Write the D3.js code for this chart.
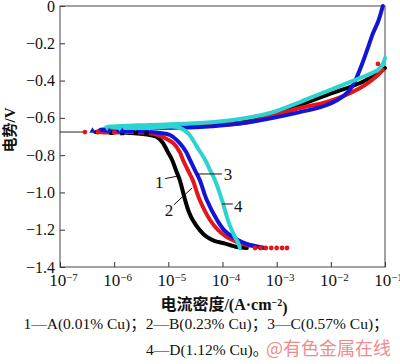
<!DOCTYPE html>
<html>
<head>
<meta charset="utf-8">
<script src="https://cdnjs.cloudflare.com/ajax/libs/d3/7.8.5/d3.min.js"></script>
<style>
body { margin: 0; background: #fff; }
svg { display: block; }
</style>
</head>
<body>
<svg id="chart" width="400" height="364"></svg>
<script>

// Polarization curves, points are [log10 current density (A/cm2), potential (V)]
var curveA = [[-3.55,-1.298],[-3.73,-1.293],[-3.99,-1.271],[-4.14,-1.261],[-4.29,-1.239],[-4.42,-1.202],[-4.55,-1.148],[-4.62,-1.105],[-4.69,-1.041],[-4.79,-0.933],[-4.86,-0.880],[-4.93,-0.826],[-5.01,-0.783],[-5.10,-0.735],[-5.21,-0.703],[-5.34,-0.692],[-5.71,-0.681],[-6.08,-0.676],[-6.35,-0.676],[-6.08,-0.665],[-5.71,-0.654],[-5.15,-0.649],[-4.42,-0.638],[-3.49,-0.617],[-2.57,-0.531],[-2.02,-0.472],[-1.46,-0.413],[-1.19,-0.370],[-1.09,-0.354],[-1.00,-0.333]];
var curveB = [[-3.40,-1.287],[-3.55,-1.282],[-3.73,-1.266],[-3.92,-1.239],[-4.08,-1.202],[-4.23,-1.148],[-4.42,-1.041],[-4.55,-0.933],[-4.64,-0.880],[-4.73,-0.826],[-4.79,-0.783],[-4.91,-0.735],[-5.10,-0.703],[-5.25,-0.687],[-5.71,-0.676],[-6.26,-0.676],[-6.26,-0.670],[-5.71,-0.660],[-4.42,-0.644],[-3.49,-0.622],[-2.57,-0.547],[-2.07,-0.515],[-1.46,-0.440],[-1.15,-0.375],[-1.04,-0.343]];
var curveC = [[-3.22,-1.298],[-3.49,-1.282],[-3.64,-1.266],[-3.81,-1.239],[-3.97,-1.202],[-4.10,-1.148],[-4.29,-1.041],[-4.42,-0.933],[-4.51,-0.880],[-4.60,-0.826],[-4.67,-0.783],[-4.79,-0.735],[-4.97,-0.692],[-5.15,-0.681],[-5.71,-0.670],[-6.26,-0.665],[-6.08,-0.660],[-5.71,-0.654],[-4.42,-0.649],[-3.49,-0.622],[-2.57,-0.569],[-2.07,-0.531],[-1.74,-0.477],[-1.61,-0.434],[-1.52,-0.381],[-1.43,-0.316],[-1.33,-0.236],[-1.22,-0.145],[-1.13,-0.086],[-1.04,0]];
var curveD = [[-3.68,-1.298],[-3.71,-1.271],[-3.77,-1.239],[-3.83,-1.202],[-3.90,-1.148],[-4.01,-1.041],[-4.14,-0.933],[-4.23,-0.880],[-4.32,-0.826],[-4.47,-0.756],[-4.64,-0.681],[-4.84,-0.649],[-5.34,-0.654],[-5.89,-0.654],[-6.13,-0.649],[-5.89,-0.644],[-5.34,-0.638],[-4.42,-0.628],[-3.68,-0.606],[-3.12,-0.574],[-2.57,-0.515],[-2.02,-0.451],[-1.46,-0.386],[-1.13,-0.343],[-1.04,-0.311],[-1.00,-0.279]];

// thin lead-in line at the corrosion potential
var ecorrLine = [[-7.0,-0.676],[-6.5,-0.676]];

// scattered markers
var markersA = [[-6.05,-0.680],[-5.85,-0.682],[-5.60,-0.680],[-5.40,-0.684]];
var markersB = [[-6.54,-0.676],[-6.30,-0.676],[-6.00,-0.678],[-3.40,-1.298],[-3.30,-1.298],[-3.20,-1.298],[-3.10,-1.298],[-3.00,-1.298],[-2.90,-1.298],[-2.81,-1.298],[-1.13,-0.311]];
var markersC = [[-6.40,-0.670],[-6.10,-0.668],[-5.85,-0.672]];
var markersD = [[-6.13,-0.652],[-5.90,-0.654],[-5.60,-0.652],[-5.35,-0.650]];

var xTickExps = [-7, -6, -5, -4, -3, -2, -1];
var yTicks = [0, -0.2, -0.4, -0.6, -0.8, -1.0, -1.2, -1.4];
var curveLabels = ["1", "2", "3", "4"];
var legendLines = ["1—A(0.01% Cu)；2—B(0.23% Cu)；3—C(0.57% Cu)；", "4—D(1.12% Cu)。"];
var watermark = "@有色金属在线";

var svg = d3.select("#chart");

var x = d3.scaleLog().domain([1e-7, 1e-1]).range([60, 385]);
var y = d3.scaleLinear().domain([-1.4, 0]).range([267, 6]);

var px = function (d) { return x(Math.pow(10, d[0])); };
var py = function (d) { return y(d[1]); };

var serif = "'Liberation Serif', 'Times New Roman', 'Noto Sans CJK SC', serif";

// Axes
var xAxis = svg.append("g")
.attr("transform", "translate(0," + y(-1.4) + ")")
.call(d3.axisBottom(x)
	.tickValues(xTickExps.map(function (e) { return Math.pow(10, e); }))
	.tickSizeInner(-5).tickSizeOuter(0).tickPadding(7));

xAxis.selectAll(".tick text")
.attr("font-family", serif)
.attr("font-size", 17)
.attr("fill", "#111")
.attr("dx", 3)
.each(function (d, i) {
	var t = d3.select(this).text("10");
	t.append("tspan")
	.attr("dy", "-0.45em")
	.attr("font-size", 11)
	.text("−" + Math.abs(xTickExps[i]));
});

var yAxis = svg.append("g")
.attr("transform", "translate(" + x(1e-7) + ",0)")
.call(d3.axisLeft(y)
	.tickValues(yTicks)
	.tickSizeInner(-5).tickSizeOuter(0).tickPadding(5)
	.tickFormat(function (d) { return d === 0 ? "0" : "−" + Math.abs(d).toFixed(1); }));

yAxis.selectAll(".tick text")
.attr("font-family", serif)
.attr("font-size", 16)
.attr("fill", "#111");

svg.selectAll(".domain").remove();
svg.selectAll(".tick line").attr("stroke", "#333");

// Frame
svg.append("rect")
.attr("x", x(1e-7))
.attr("y", y(0))
.attr("width", x(1e-1) - x(1e-7))
.attr("height", y(-1.4) - y(0))
.attr("fill", "none")
.attr("stroke", "#444")
.attr("stroke-width", 1);

// Curves
var line = d3.line().x(px).y(py).curve(d3.curveCatmullRom.alpha(0.5));

svg.append("path")
.attr("d", line(ecorrLine))
.attr("fill", "none")
.attr("stroke", "#222")
.attr("stroke-width", 1);

var series = [
	{ data: curveA, markers: markersA, color: "#000000", symbol: d3.symbolSquare },
	{ data: curveB, markers: markersB, color: "#e3171b", symbol: d3.symbolCircle },
	{ data: curveC, markers: markersC, color: "#1414d6", symbol: d3.symbolTriangle },
	{ data: curveD, markers: markersD, color: "#2dd3d0", symbol: d3.symbolTriangle }
];

series.forEach(function (s, i) {
	svg.append("path")
	.attr("d", line(s.data))
	.attr("fill", "none")
	.attr("stroke", s.color)
	.attr("stroke-width", 4)
	.attr("stroke-linejoin", "round")
	.attr("stroke-linecap", "round");
});

series.forEach(function (s, i) {
	svg.selectAll(null)
	.data(s.markers)
	.enter().append("path")
	.attr("d", d3.symbol().type(s.symbol).size(18))
	.attr("transform", function (d) {
		return "translate(" + px(d) + "," + py(d) + ")" + (i == 3 ? " rotate(180)" : "");
	})
	.attr("fill", s.color);
});

// Curve labels with leader lines
var labelAnchors = [
	{ text: [-5.17, -0.944], from: [-5.06, -0.926], to: [-4.82, -0.912] },
	{ text: [-4.99, -1.094], from: [-4.90, -1.067], to: [-4.56, -0.976] },
	{ text: [-3.90, -0.901], from: [-4.47, -0.901], to: [-4.01, -0.901] },
	{ text: [-3.71, -1.073], from: [-4.01, -1.062], to: [-3.81, -1.062] }
];

labelAnchors.forEach(function (a, i) {
	svg.append("line")
	.attr("x1", px(a.from)).attr("y1", py(a.from))
	.attr("x2", px(a.to)).attr("y2", py(a.to))
	.attr("stroke", "#111")
	.attr("stroke-width", 1);

	svg.append("text")
	.attr("x", px(a.text))
	.attr("y", py(a.text))
	.attr("dy", "0.35em")
	.attr("text-anchor", "middle")
	.attr("font-family", serif)
	.attr("font-size", 17)
	.attr("fill", "#111")
	.text(curveLabels[i]);
});

// Axis titles
svg.append("text")
.attr("transform", "translate(15,130) rotate(-90)")
.attr("text-anchor", "middle")
.attr("font-family", serif)
.attr("font-weight", "bold")
.attr("font-size", 15)
.attr("fill", "#111")
.text("电势/V");

var xTitle = svg.append("text")
.attr("x", 224)
.attr("y", 310)
.attr("text-anchor", "middle")
.attr("font-family", serif)
.attr("font-weight", "bold")
.attr("font-size", 16)
.attr("fill", "#111");
xTitle.append("tspan").text("电流密度/(A·cm");
xTitle.append("tspan").attr("dy", "-0.45em").attr("font-size", 10).text("−2");
xTitle.append("tspan").attr("dy", "0.45em").text(")");

// Legend caption
svg.append("text")
.attr("x", 206)
.attr("y", 329)
.attr("text-anchor", "middle")
.attr("font-family", serif)
.attr("font-size", 15.5)
.attr("fill", "#111")
.text(legendLines[0]);

svg.append("text")
.attr("x", 146)
.attr("y", 355)
.attr("font-family", serif)
.attr("font-size", 15.5)
.attr("fill", "#111")
.text(legendLines[1]);

svg.append("text")
.attr("x", 266)
.attr("y", 355)
.attr("font-family", "'Noto Sans CJK SC', sans-serif")
.attr("font-size", 18)
.attr("fill", "#ee8c8c")
.text(watermark);

</script>
</body>
</html>
